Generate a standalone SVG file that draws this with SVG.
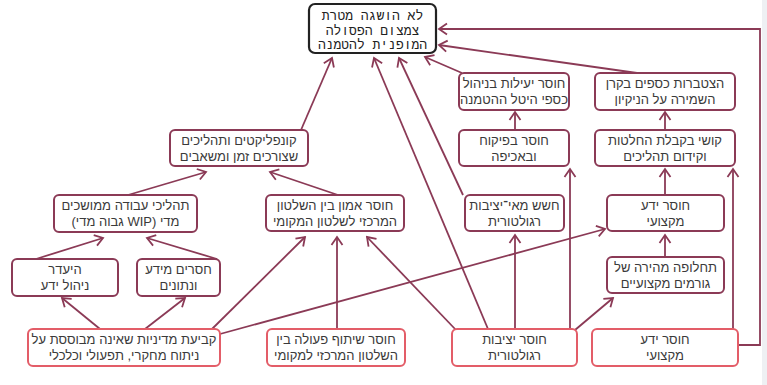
<svg xmlns="http://www.w3.org/2000/svg" width="767" height="385" viewBox="0 0 767 385">
<style>
  .bx rect{fill:#fff;stroke:#8b3a56;stroke-width:2}
  .src rect{fill:#fff;stroke:#e35d68;stroke-width:2}
  .goal rect{fill:#fff;stroke:#222;stroke-width:2.2}
  text{font-family:"Liberation Sans","DejaVu Sans",sans-serif;font-size:13px;fill:#3a3a3a;text-anchor:middle;direction:rtl}
  .goal text{font-family:"Liberation Mono","DejaVu Sans Mono",monospace;font-size:13px;fill:#222}
  #conn path,#conn line,#conn polyline{fill:none;stroke:#8b3a56;stroke-width:1.8;marker-end:url(#ah)}
</style>
<defs>
  <marker id="ah" viewBox="-10 -7 12 14" refX="0" refY="0" markerWidth="12" markerHeight="14" markerUnits="userSpaceOnUse" orient="auto">
    <path d="M-8,-5.5 L0,0 L-8,5.5" fill="none" stroke="#8b3a56" stroke-width="1.8"/>
  </marker>
</defs>
<rect x="0" y="0" width="767" height="385" fill="#fff"/>
<rect x="762" y="0" width="5" height="385" fill="#eef0f3"/>

<g id="conn">
  <line x1="301" y1="130" x2="332" y2="58"/>
  <line x1="128" y1="195" x2="206" y2="172"/>
  <line x1="338" y1="195" x2="270" y2="172"/>
  <line x1="36" y1="259" x2="103" y2="238"/>
  <line x1="217" y1="259" x2="147" y2="238"/>
  <line x1="100" y1="329" x2="62" y2="298"/>
  <line x1="145" y1="329" x2="185" y2="298"/>
  <line x1="212" y1="329" x2="305" y2="237"/>
  <line x1="220" y1="334" x2="605" y2="229"/>
  <line x1="337" y1="329" x2="337" y2="237"/>
  <line x1="456" y1="330" x2="367" y2="237"/>
  <line x1="488" y1="329" x2="374" y2="58"/>
  <line x1="515" y1="329" x2="515" y2="235"/>
  <line x1="570" y1="329" x2="570" y2="169"/>
  <line x1="575" y1="330" x2="613" y2="298"/>
  <line x1="463" y1="195" x2="399" y2="58"/>
  <line x1="515" y1="130" x2="515" y2="112"/>
  <line x1="462" y1="73" x2="425" y2="57"/>
  <line x1="637" y1="73" x2="439" y2="45"/>
  <line x1="665" y1="130" x2="665" y2="112"/>
  <line x1="665" y1="195" x2="665" y2="169"/>
  <line x1="665" y1="257" x2="665" y2="235"/>
  <line x1="733" y1="329" x2="733" y2="169"/>
  <polyline points="738,345 760,345 760,29 439,29"/>
</g>

<g id="goal" class="goal">
  <rect x="309" y="4" width="127" height="49" rx="6"/>
  <text x="372.5" y="19.5">לא הושגה מטרת</text>
  <text x="372.5" y="34.5">צמצום הפסולה</text>
  <text x="372.5" y="49">המופנית להטמנה</text>
</g>

<g id="conflicts" class="bx">
  <rect x="170" y="130" width="138" height="36" rx="5"/>
  <text x="239" y="145">קונפליקטים ותהליכים</text>
  <text x="239" y="161">שצורכים זמן ומשאבים</text>
</g>
<g id="wip" class="bx">
  <rect x="54" y="195" width="143" height="37" rx="5"/>
  <text x="125.5" y="210">תהליכי עבודה ממושכים</text>
  <text x="125.5" y="226">מדי (WIP גבוה מדי)</text>
</g>
<g id="trust" class="bx">
  <rect x="266" y="195" width="138" height="36" rx="5"/>
  <text x="335" y="210">חוסר אמון בין השלטון</text>
  <text x="335" y="226">המרכזי לשלטון המקומי</text>
</g>
<g id="knowledge-mgmt" class="bx">
  <rect x="12" y="259" width="106" height="37" rx="5"/>
  <text x="65" y="274">היעדר</text>
  <text x="65" y="290">ניהול ידע</text>
</g>
<g id="data" class="bx">
  <rect x="137" y="259" width="83" height="37" rx="5"/>
  <text x="178.5" y="274">חסרים מידע</text>
  <text x="178.5" y="290">ונתונים</text>
</g>
<g id="policy" class="src">
  <rect x="28" y="329" width="192" height="37" rx="5"/>
  <text x="124" y="344">קביעת מדיניות שאינה מבוססת על</text>
  <text x="124" y="360">ניתוח מחקרי, תפעולי וכלכלי</text>
</g>
<g id="cooperation" class="src">
  <rect x="267" y="329" width="138" height="37" rx="5"/>
  <text x="336" y="344">חוסר שיתוף פעולה בין</text>
  <text x="336" y="360">השלטון המרכזי למקומי</text>
</g>
<g id="reg-stability" class="src">
  <rect x="452" y="329" width="125" height="37" rx="5"/>
  <text x="514.5" y="344">חוסר יציבות</text>
  <text x="514.5" y="360">רגולטורית</text>
</g>
<g id="expertise-src" class="src">
  <rect x="592" y="329" width="146" height="37" rx="5"/>
  <text x="665" y="344">חוסר ידע</text>
  <text x="665" y="360">מקצועי</text>
</g>
<g id="reg-fear" class="bx">
  <rect x="465" y="195" width="99" height="36" rx="5"/>
  <text x="514.5" y="210">חשש מאי־יציבות</text>
  <text x="514.5" y="226">רגולטורית</text>
</g>
<g id="efficiency" class="bx">
  <rect x="459" y="73" width="110" height="37" rx="5"/>
  <text x="514" y="88">חוסר יעילות בניהול</text>
  <text x="514" y="104">כספי היטל ההטמנה</text>
</g>
<g id="enforcement" class="bx">
  <rect x="459" y="130" width="110" height="36" rx="5"/>
  <text x="514" y="145">חוסר בפיקוח</text>
  <text x="514" y="161">ובאכיפה</text>
</g>
<g id="funds" class="bx">
  <rect x="595" y="73" width="140" height="37" rx="5"/>
  <text x="665" y="88">הצטברות כספים בקרן</text>
  <text x="665" y="104">השמירה על הניקיון</text>
</g>
<g id="decisions" class="bx">
  <rect x="595" y="130" width="140" height="36" rx="5"/>
  <text x="665" y="145">קושי בקבלת החלטות</text>
  <text x="665" y="161">וקידום תהליכים</text>
</g>
<g id="expertise" class="bx">
  <rect x="607" y="195" width="117" height="36" rx="5"/>
  <text x="665.5" y="210">חוסר ידע</text>
  <text x="665.5" y="226">מקצועי</text>
</g>
<g id="turnover" class="bx">
  <rect x="607" y="257" width="117" height="36" rx="5"/>
  <text x="665.5" y="272">תחלופה מהירה של</text>
  <text x="665.5" y="288">גורמים מקצועיים</text>
</g>
</svg>
